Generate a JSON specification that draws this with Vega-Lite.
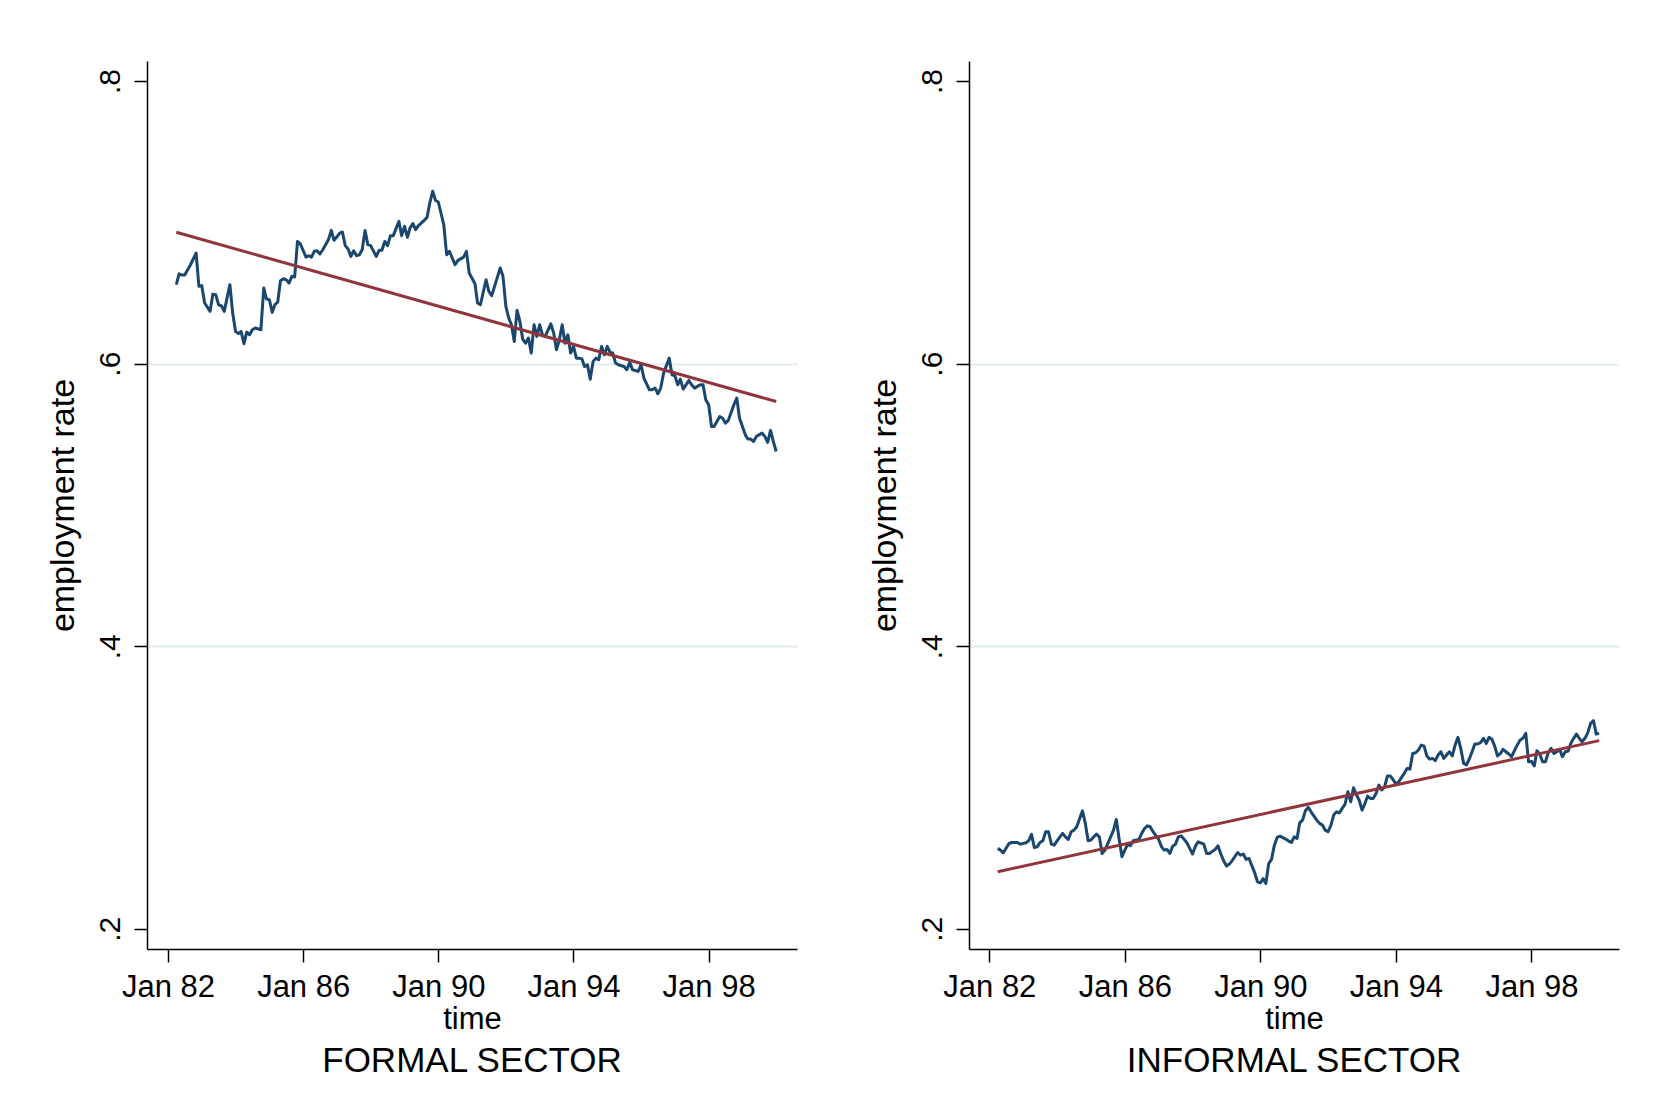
{
  "$schema": "https://vega.github.io/schema/vega-lite/v6.json",
  "background": "white",
  "padding": {"top": 61, "left": 46, "right": 5, "bottom": 5},
  "spacing": 71,
  "config": {
    "font": "Liberation Sans",
    "view": {"stroke": null},
    "axisX": {
      "domainColor": "black", "domainWidth": 1.5, "tickColor": "black", "tickWidth": 1.5, "tickSize": 13,
      "labelFontSize": 31, "labelColor": "black", "labelPadding": 10, "labelAngle": 0, "labelFlush": false, "labelOverlap": false,
      "titleFontSize": 31, "titleFontWeight": "normal", "titleColor": "black", "titlePadding": 2, "grid": false
    },
    "axisY": {
      "domainColor": "black", "domainWidth": 1.5, "tickColor": "black", "tickWidth": 1.5, "tickSize": 13,
      "labelFontSize": 30, "labelColor": "black", "labelPadding": 15, "labelAngle": -90, "labelAlign": "center", "labelBaseline": "alphabetic", "labelFlush": false, "labelOverlap": false,
      "titleFontSize": 34, "titleFontWeight": "normal", "titleColor": "black", "titlePadding": 15,
      "grid": true, "gridColor": "#e3ecef", "gridWidth": 2,
      "gridOpacity": {"condition": {"test": "datum.value < 0.3 || datum.value > 0.7", "value": 0}, "value": 1}
    },
    "title": {"fontSize": 35, "fontWeight": "normal", "color": "black", "orient": "bottom", "anchor": "middle", "frame": "group", "offset": 10}
  },
  "datasets": {
    "formal": [
      {"date": "1982-04", "rate": 0.6559}, {"date": "1982-05", "rate": 0.6636}, {"date": "1982-06", "rate": 0.6627}, {"date": "1982-07", "rate": 0.6627},
      {"date": "1982-09", "rate": 0.6700}, {"date": "1982-11", "rate": 0.6783}, {"date": "1982-12", "rate": 0.6547}, {"date": "1983-01", "rate": 0.6552},
      {"date": "1983-02", "rate": 0.6429}, {"date": "1983-04", "rate": 0.6370}, {"date": "1983-05", "rate": 0.6492}, {"date": "1983-06", "rate": 0.6488},
      {"date": "1983-07", "rate": 0.6417}, {"date": "1983-08", "rate": 0.6410}, {"date": "1983-09", "rate": 0.6370}, {"date": "1983-11", "rate": 0.6559},
      {"date": "1983-12", "rate": 0.6358}, {"date": "1984-01", "rate": 0.6228}, {"date": "1984-02", "rate": 0.6212}, {"date": "1984-03", "rate": 0.6228},
      {"date": "1984-04", "rate": 0.6141}, {"date": "1984-05", "rate": 0.6223}, {"date": "1984-06", "rate": 0.6204}, {"date": "1984-07", "rate": 0.6240},
      {"date": "1984-08", "rate": 0.6252}, {"date": "1984-10", "rate": 0.6240}, {"date": "1984-11", "rate": 0.6535}, {"date": "1984-12", "rate": 0.6457},
      {"date": "1985-01", "rate": 0.6452}, {"date": "1985-02", "rate": 0.6363}, {"date": "1985-03", "rate": 0.6417}, {"date": "1985-04", "rate": 0.6436},
      {"date": "1985-05", "rate": 0.6587}, {"date": "1985-06", "rate": 0.6601}, {"date": "1985-07", "rate": 0.6594}, {"date": "1985-08", "rate": 0.6570},
      {"date": "1985-09", "rate": 0.6618}, {"date": "1985-10", "rate": 0.6613}, {"date": "1985-11", "rate": 0.6865}, {"date": "1985-12", "rate": 0.6847},
      {"date": "1986-02", "rate": 0.6754}, {"date": "1986-03", "rate": 0.6764}, {"date": "1986-04", "rate": 0.6754}, {"date": "1986-05", "rate": 0.6795},
      {"date": "1986-06", "rate": 0.6799}, {"date": "1986-07", "rate": 0.6776}, {"date": "1986-08", "rate": 0.6806}, {"date": "1986-10", "rate": 0.6877},
      {"date": "1986-11", "rate": 0.6943}, {"date": "1986-12", "rate": 0.6873}, {"date": "1987-02", "rate": 0.6924}, {"date": "1987-03", "rate": 0.6932},
      {"date": "1987-04", "rate": 0.6835}, {"date": "1987-05", "rate": 0.6811}, {"date": "1987-06", "rate": 0.6759}, {"date": "1987-07", "rate": 0.6799},
      {"date": "1987-08", "rate": 0.6764}, {"date": "1987-09", "rate": 0.6771}, {"date": "1987-10", "rate": 0.6806}, {"date": "1987-11", "rate": 0.6943},
      {"date": "1987-12", "rate": 0.6842}, {"date": "1988-01", "rate": 0.6835}, {"date": "1988-03", "rate": 0.6759}, {"date": "1988-04", "rate": 0.6802},
      {"date": "1988-05", "rate": 0.6802}, {"date": "1988-06", "rate": 0.6865}, {"date": "1988-07", "rate": 0.6835}, {"date": "1988-08", "rate": 0.6906},
      {"date": "1988-09", "rate": 0.6906}, {"date": "1988-11", "rate": 0.7007}, {"date": "1988-12", "rate": 0.6906}, {"date": "1989-01", "rate": 0.6972},
      {"date": "1989-02", "rate": 0.6894}, {"date": "1989-03", "rate": 0.6960}, {"date": "1989-04", "rate": 0.6991}, {"date": "1989-05", "rate": 0.6948},
      {"date": "1989-06", "rate": 0.6977}, {"date": "1989-08", "rate": 0.7014}, {"date": "1989-09", "rate": 0.7035}, {"date": "1989-10", "rate": 0.7137},
      {"date": "1989-11", "rate": 0.7220}, {"date": "1989-12", "rate": 0.7156}, {"date": "1990-01", "rate": 0.7144}, {"date": "1990-03", "rate": 0.6983},
      {"date": "1990-04", "rate": 0.6771}, {"date": "1990-05", "rate": 0.6795}, {"date": "1990-07", "rate": 0.6700}, {"date": "1990-08", "rate": 0.6731},
      {"date": "1990-10", "rate": 0.6754}, {"date": "1990-11", "rate": 0.6795}, {"date": "1990-12", "rate": 0.6641}, {"date": "1991-02", "rate": 0.6566},
      {"date": "1991-03", "rate": 0.6429}, {"date": "1991-04", "rate": 0.6417}, {"date": "1991-06", "rate": 0.6594}, {"date": "1991-07", "rate": 0.6511},
      {"date": "1991-08", "rate": 0.6481}, {"date": "1991-09", "rate": 0.6547}, {"date": "1991-11", "rate": 0.6677}, {"date": "1991-12", "rate": 0.6618},
      {"date": "1992-01", "rate": 0.6405}, {"date": "1992-02", "rate": 0.6323}, {"date": "1992-03", "rate": 0.6275}, {"date": "1992-04", "rate": 0.6157},
      {"date": "1992-05", "rate": 0.6377}, {"date": "1992-06", "rate": 0.6299}, {"date": "1992-07", "rate": 0.6174}, {"date": "1992-08", "rate": 0.6145},
      {"date": "1992-09", "rate": 0.6181}, {"date": "1992-10", "rate": 0.6075}, {"date": "1992-11", "rate": 0.6275}, {"date": "1992-12", "rate": 0.6193},
      {"date": "1993-01", "rate": 0.6275}, {"date": "1993-02", "rate": 0.6200}, {"date": "1993-03", "rate": 0.6193}, {"date": "1993-05", "rate": 0.6282},
      {"date": "1993-06", "rate": 0.6216}, {"date": "1993-07", "rate": 0.6098}, {"date": "1993-08", "rate": 0.6169}, {"date": "1993-09", "rate": 0.6275},
      {"date": "1993-10", "rate": 0.6145}, {"date": "1993-11", "rate": 0.6204}, {"date": "1993-12", "rate": 0.6075}, {"date": "1994-01", "rate": 0.6122},
      {"date": "1994-02", "rate": 0.6039}, {"date": "1994-03", "rate": 0.6039}, {"date": "1994-04", "rate": 0.6035}, {"date": "1994-05", "rate": 0.5980},
      {"date": "1994-06", "rate": 0.5992}, {"date": "1994-07", "rate": 0.5890}, {"date": "1994-08", "rate": 0.6016}, {"date": "1994-09", "rate": 0.6039},
      {"date": "1994-10", "rate": 0.6028}, {"date": "1994-11", "rate": 0.6122}, {"date": "1994-12", "rate": 0.6063}, {"date": "1995-01", "rate": 0.6122},
      {"date": "1995-02", "rate": 0.6079}, {"date": "1995-03", "rate": 0.6075}, {"date": "1995-04", "rate": 0.6004}, {"date": "1995-05", "rate": 0.5992},
      {"date": "1995-07", "rate": 0.5980}, {"date": "1995-08", "rate": 0.5957}, {"date": "1995-09", "rate": 0.6009}, {"date": "1995-10", "rate": 0.5957},
      {"date": "1995-12", "rate": 0.5945}, {"date": "1996-01", "rate": 0.5992}, {"date": "1996-02", "rate": 0.5898}, {"date": "1996-04", "rate": 0.5815},
      {"date": "1996-05", "rate": 0.5815}, {"date": "1996-06", "rate": 0.5827}, {"date": "1996-07", "rate": 0.5787}, {"date": "1996-08", "rate": 0.5827},
      {"date": "1996-09", "rate": 0.5933}, {"date": "1996-11", "rate": 0.6039}, {"date": "1996-12", "rate": 0.5921}, {"date": "1997-01", "rate": 0.5914},
      {"date": "1997-02", "rate": 0.5850}, {"date": "1997-03", "rate": 0.5890}, {"date": "1997-04", "rate": 0.5820}, {"date": "1997-06", "rate": 0.5881},
      {"date": "1997-07", "rate": 0.5850}, {"date": "1997-08", "rate": 0.5827}, {"date": "1997-10", "rate": 0.5850}, {"date": "1997-11", "rate": 0.5850},
      {"date": "1997-12", "rate": 0.5744}, {"date": "1998-01", "rate": 0.5709}, {"date": "1998-02", "rate": 0.5555}, {"date": "1998-03", "rate": 0.5555},
      {"date": "1998-05", "rate": 0.5626}, {"date": "1998-06", "rate": 0.5614}, {"date": "1998-07", "rate": 0.5579}, {"date": "1998-08", "rate": 0.5598},
      {"date": "1998-10", "rate": 0.5709}, {"date": "1998-11", "rate": 0.5756}, {"date": "1998-12", "rate": 0.5614}, {"date": "1999-02", "rate": 0.5496},
      {"date": "1999-03", "rate": 0.5466}, {"date": "1999-04", "rate": 0.5466}, {"date": "1999-05", "rate": 0.5449}, {"date": "1999-06", "rate": 0.5485},
      {"date": "1999-08", "rate": 0.5508}, {"date": "1999-09", "rate": 0.5485}, {"date": "1999-10", "rate": 0.5442}, {"date": "1999-11", "rate": 0.5527},
      {"date": "1999-12", "rate": 0.5449}, {"date": "2000-01", "rate": 0.5378}
    ],
    "formal_fit": [
      {"date": "1982-04", "fit": 0.6930}, {"date": "2000-01", "fit": 0.5732}
    ],
    "informal": [
      {"date": "1982-04", "rate": 0.2569}, {"date": "1982-05", "rate": 0.2557}, {"date": "1982-06", "rate": 0.2538}, {"date": "1982-08", "rate": 0.2604},
      {"date": "1982-09", "rate": 0.2611}, {"date": "1982-11", "rate": 0.2611}, {"date": "1982-12", "rate": 0.2599}, {"date": "1983-02", "rate": 0.2609},
      {"date": "1983-03", "rate": 0.2623}, {"date": "1983-04", "rate": 0.2668}, {"date": "1983-05", "rate": 0.2576}, {"date": "1983-06", "rate": 0.2580},
      {"date": "1983-07", "rate": 0.2611}, {"date": "1983-08", "rate": 0.2623}, {"date": "1983-09", "rate": 0.2687}, {"date": "1983-10", "rate": 0.2687},
      {"date": "1983-11", "rate": 0.2599}, {"date": "1983-12", "rate": 0.2592}, {"date": "1984-02", "rate": 0.2651}, {"date": "1984-03", "rate": 0.2675},
      {"date": "1984-04", "rate": 0.2651}, {"date": "1984-05", "rate": 0.2632}, {"date": "1984-06", "rate": 0.2687}, {"date": "1984-07", "rate": 0.2698},
      {"date": "1984-08", "rate": 0.2722}, {"date": "1984-09", "rate": 0.2781}, {"date": "1984-10", "rate": 0.2835}, {"date": "1984-11", "rate": 0.2746},
      {"date": "1984-12", "rate": 0.2623}, {"date": "1985-01", "rate": 0.2628}, {"date": "1985-02", "rate": 0.2651}, {"date": "1985-03", "rate": 0.2670},
      {"date": "1985-04", "rate": 0.2651}, {"date": "1985-05", "rate": 0.2533}, {"date": "1985-06", "rate": 0.2557}, {"date": "1985-08", "rate": 0.2651},
      {"date": "1985-09", "rate": 0.2698}, {"date": "1985-10", "rate": 0.2774}, {"date": "1985-11", "rate": 0.2632}, {"date": "1985-12", "rate": 0.2510},
      {"date": "1986-01", "rate": 0.2557}, {"date": "1986-02", "rate": 0.2599}, {"date": "1986-03", "rate": 0.2588}, {"date": "1986-04", "rate": 0.2623},
      {"date": "1986-06", "rate": 0.2632}, {"date": "1986-07", "rate": 0.2675}, {"date": "1986-08", "rate": 0.2710}, {"date": "1986-09", "rate": 0.2729},
      {"date": "1986-10", "rate": 0.2722}, {"date": "1986-11", "rate": 0.2687}, {"date": "1987-01", "rate": 0.2632}, {"date": "1987-02", "rate": 0.2580},
      {"date": "1987-03", "rate": 0.2557}, {"date": "1987-04", "rate": 0.2562}, {"date": "1987-05", "rate": 0.2533}, {"date": "1987-06", "rate": 0.2585},
      {"date": "1987-07", "rate": 0.2599}, {"date": "1987-08", "rate": 0.2651}, {"date": "1987-09", "rate": 0.2658}, {"date": "1987-11", "rate": 0.2609},
      {"date": "1987-12", "rate": 0.2569}, {"date": "1988-01", "rate": 0.2529}, {"date": "1988-02", "rate": 0.2585}, {"date": "1988-03", "rate": 0.2616},
      {"date": "1988-05", "rate": 0.2599}, {"date": "1988-06", "rate": 0.2533}, {"date": "1988-07", "rate": 0.2533}, {"date": "1988-09", "rate": 0.2562},
      {"date": "1988-10", "rate": 0.2588}, {"date": "1988-11", "rate": 0.2529}, {"date": "1988-12", "rate": 0.2481}, {"date": "1989-01", "rate": 0.2444},
      {"date": "1989-02", "rate": 0.2458}, {"date": "1989-03", "rate": 0.2481}, {"date": "1989-05", "rate": 0.2540}, {"date": "1989-06", "rate": 0.2521},
      {"date": "1989-07", "rate": 0.2529}, {"date": "1989-08", "rate": 0.2491}, {"date": "1989-09", "rate": 0.2498}, {"date": "1989-11", "rate": 0.2396},
      {"date": "1989-12", "rate": 0.2333}, {"date": "1990-01", "rate": 0.2325}, {"date": "1990-02", "rate": 0.2355}, {"date": "1990-03", "rate": 0.2321},
      {"date": "1990-04", "rate": 0.2462}, {"date": "1990-05", "rate": 0.2491}, {"date": "1990-06", "rate": 0.2592}, {"date": "1990-07", "rate": 0.2647},
      {"date": "1990-08", "rate": 0.2656}, {"date": "1990-10", "rate": 0.2635}, {"date": "1990-11", "rate": 0.2621}, {"date": "1990-12", "rate": 0.2611},
      {"date": "1991-01", "rate": 0.2651}, {"date": "1991-02", "rate": 0.2640}, {"date": "1991-03", "rate": 0.2750}, {"date": "1991-04", "rate": 0.2769},
      {"date": "1991-05", "rate": 0.2835}, {"date": "1991-06", "rate": 0.2859}, {"date": "1991-07", "rate": 0.2828}, {"date": "1991-09", "rate": 0.2769},
      {"date": "1991-10", "rate": 0.2746}, {"date": "1991-11", "rate": 0.2734}, {"date": "1991-12", "rate": 0.2698}, {"date": "1992-01", "rate": 0.2687},
      {"date": "1992-02", "rate": 0.2734}, {"date": "1992-03", "rate": 0.2805}, {"date": "1992-04", "rate": 0.2828}, {"date": "1992-05", "rate": 0.2820},
      {"date": "1992-06", "rate": 0.2852}, {"date": "1992-07", "rate": 0.2880}, {"date": "1992-08", "rate": 0.2970}, {"date": "1992-09", "rate": 0.2899},
      {"date": "1992-10", "rate": 0.2998}, {"date": "1992-11", "rate": 0.2950}, {"date": "1992-12", "rate": 0.2911}, {"date": "1993-01", "rate": 0.2840},
      {"date": "1993-02", "rate": 0.2887}, {"date": "1993-03", "rate": 0.2939}, {"date": "1993-04", "rate": 0.2923}, {"date": "1993-05", "rate": 0.2923},
      {"date": "1993-06", "rate": 0.2958}, {"date": "1993-07", "rate": 0.3017}, {"date": "1993-08", "rate": 0.2982}, {"date": "1993-09", "rate": 0.3005},
      {"date": "1993-10", "rate": 0.3081}, {"date": "1993-11", "rate": 0.3081}, {"date": "1993-12", "rate": 0.3057}, {"date": "1994-01", "rate": 0.3024},
      {"date": "1994-02", "rate": 0.3041}, {"date": "1994-03", "rate": 0.3070}, {"date": "1994-04", "rate": 0.3100}, {"date": "1994-05", "rate": 0.3135},
      {"date": "1994-06", "rate": 0.3130}, {"date": "1994-07", "rate": 0.3241}, {"date": "1994-08", "rate": 0.3246}, {"date": "1994-09", "rate": 0.3265},
      {"date": "1994-10", "rate": 0.3300}, {"date": "1994-11", "rate": 0.3293}, {"date": "1994-12", "rate": 0.3223}, {"date": "1995-01", "rate": 0.3201},
      {"date": "1995-02", "rate": 0.3206}, {"date": "1995-03", "rate": 0.3190}, {"date": "1995-04", "rate": 0.3230}, {"date": "1995-05", "rate": 0.3253},
      {"date": "1995-06", "rate": 0.3206}, {"date": "1995-07", "rate": 0.3230}, {"date": "1995-08", "rate": 0.3253}, {"date": "1995-09", "rate": 0.3223},
      {"date": "1995-10", "rate": 0.3300}, {"date": "1995-11", "rate": 0.3355}, {"date": "1995-12", "rate": 0.3277}, {"date": "1996-01", "rate": 0.3171},
      {"date": "1996-02", "rate": 0.3160}, {"date": "1996-03", "rate": 0.3200}, {"date": "1996-04", "rate": 0.3253}, {"date": "1996-05", "rate": 0.3308},
      {"date": "1996-06", "rate": 0.3308}, {"date": "1996-07", "rate": 0.3317}, {"date": "1996-08", "rate": 0.3348}, {"date": "1996-09", "rate": 0.3312},
      {"date": "1996-10", "rate": 0.3355}, {"date": "1996-11", "rate": 0.3341}, {"date": "1996-12", "rate": 0.3293}, {"date": "1997-01", "rate": 0.3223},
      {"date": "1997-02", "rate": 0.3241}, {"date": "1997-03", "rate": 0.3270}, {"date": "1997-04", "rate": 0.3253}, {"date": "1997-05", "rate": 0.3237},
      {"date": "1997-06", "rate": 0.3218}, {"date": "1997-07", "rate": 0.3260}, {"date": "1997-08", "rate": 0.3300}, {"date": "1997-09", "rate": 0.3336},
      {"date": "1997-10", "rate": 0.3348}, {"date": "1997-11", "rate": 0.3383}, {"date": "1997-12", "rate": 0.3182}, {"date": "1998-01", "rate": 0.3185},
      {"date": "1998-02", "rate": 0.3152}, {"date": "1998-03", "rate": 0.3260}, {"date": "1998-04", "rate": 0.3237}, {"date": "1998-05", "rate": 0.3182},
      {"date": "1998-06", "rate": 0.3182}, {"date": "1998-07", "rate": 0.3246}, {"date": "1998-08", "rate": 0.3277}, {"date": "1998-09", "rate": 0.3241},
      {"date": "1998-10", "rate": 0.3253}, {"date": "1998-11", "rate": 0.3270}, {"date": "1998-12", "rate": 0.3218}, {"date": "1999-01", "rate": 0.3253},
      {"date": "1999-02", "rate": 0.3258}, {"date": "1999-03", "rate": 0.3312}, {"date": "1999-04", "rate": 0.3348}, {"date": "1999-05", "rate": 0.3378},
      {"date": "1999-06", "rate": 0.3348}, {"date": "1999-07", "rate": 0.3324}, {"date": "1999-08", "rate": 0.3348}, {"date": "1999-09", "rate": 0.3388},
      {"date": "1999-10", "rate": 0.3454}, {"date": "1999-11", "rate": 0.3473}, {"date": "1999-12", "rate": 0.3378}, {"date": "2000-01", "rate": 0.3383}
    ],
    "informal_fit": [
      {"date": "1982-04", "fit": 0.2404}, {"date": "2000-01", "fit": 0.3332}
    ]
  },
  "hconcat": [
    {
      "width": 650,
      "height": 888,
      "title": {"text": "FORMAL SECTOR"},
      "layer": [
        {
          "data": {"name": "formal"},
          "mark": {"type": "line", "color": "#1a476f", "strokeWidth": 3, "strokeJoin": "round"},
          "encoding": {
            "x": {"field": "date", "type": "temporal",
                  "scale": {"domain": [{"year": 1981, "month": 5, "date": 19}, {"year": 2000, "month": 8, "date": 13}], "nice": false},
                  "axis": {"title": "time", "format": "%b %y",
                           "values": [{"year": 1982, "month": 1, "date": 1}, {"year": 1986, "month": 1, "date": 1}, {"year": 1990, "month": 1, "date": 1}, {"year": 1994, "month": 1, "date": 1}, {"year": 1998, "month": 1, "date": 1}]}},
            "y": {"field": "rate", "type": "quantitative",
                  "scale": {"domain": [0.1857, 0.8142], "nice": false, "zero": false},
                  "axis": {"title": "employment rate", "values": [0.2, 0.4, 0.6, 0.8], "labelExpr": "replace(format(datum.value, '.1f'), '0.', '.')"}}
          }
        },
        {
          "data": {"name": "formal_fit"},
          "mark": {"type": "line", "color": "#90353b", "strokeWidth": 3},
          "encoding": {
            "x": {"field": "date", "type": "temporal"},
            "y": {"field": "fit", "type": "quantitative"}
          }
        }
      ]
    },
    {
      "width": 650,
      "height": 888,
      "title": {"text": "INFORMAL SECTOR"},
      "layer": [
        {
          "data": {"name": "informal"},
          "mark": {"type": "line", "color": "#1a476f", "strokeWidth": 3, "strokeJoin": "round"},
          "encoding": {
            "x": {"field": "date", "type": "temporal",
                  "scale": {"domain": [{"year": 1981, "month": 5, "date": 27}, {"year": 2000, "month": 8, "date": 2}], "nice": false},
                  "axis": {"title": "time", "format": "%b %y",
                           "values": [{"year": 1982, "month": 1, "date": 1}, {"year": 1986, "month": 1, "date": 1}, {"year": 1990, "month": 1, "date": 1}, {"year": 1994, "month": 1, "date": 1}, {"year": 1998, "month": 1, "date": 1}]}},
            "y": {"field": "rate", "type": "quantitative",
                  "scale": {"domain": [0.1857, 0.8142], "nice": false, "zero": false},
                  "axis": {"title": "employment rate", "values": [0.2, 0.4, 0.6, 0.8], "labelExpr": "replace(format(datum.value, '.1f'), '0.', '.')"}}
          }
        },
        {
          "data": {"name": "informal_fit"},
          "mark": {"type": "line", "color": "#90353b", "strokeWidth": 3},
          "encoding": {
            "x": {"field": "date", "type": "temporal"},
            "y": {"field": "fit", "type": "quantitative"}
          }
        }
      ]
    }
  ]
}
